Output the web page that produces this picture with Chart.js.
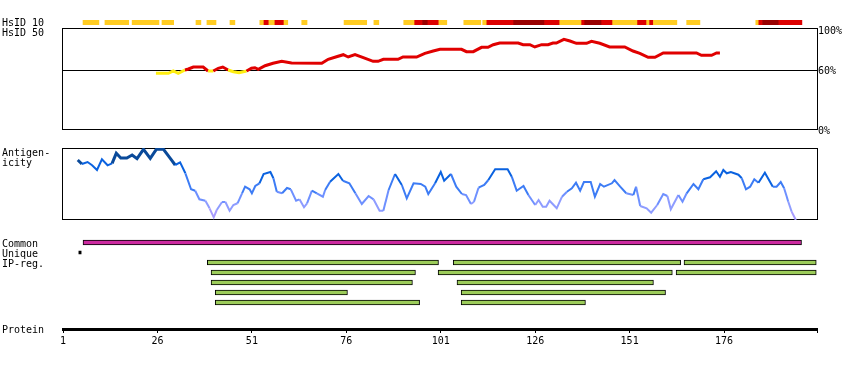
<!DOCTYPE html>
<html><head><meta charset="utf-8">
<script src="https://cdn.jsdelivr.net/npm/chart.js@4.4.0/dist/chart.umd.min.js"></script>
<style>
html,body{margin:0;padding:0;background:#fff;}
#wrap{position:relative;width:850px;height:370px;overflow:hidden;background:#fff;}
#wrap canvas{position:absolute;left:0;top:0;}
.lbl{position:absolute;left:2px;font-family:'DejaVu Sans Mono',monospace;font-size:10px;line-height:10px;color:#000;white-space:pre;}
</style></head><body>
<div id="wrap">
<canvas id="cStrip" width="850" height="370"></canvas>
<canvas id="cId" width="850" height="370"></canvas>
<canvas id="cAg" width="850" height="370"></canvas>
<canvas id="cFeat" width="850" height="370"></canvas>
<canvas id="cAxis" width="850" height="370"></canvas>
<div class="lbl" style="top:18px">HsID 10</div>
<div class="lbl" style="top:28px">HsID 50</div>
<div class="lbl" style="top:148px">Antigen-</div>
<div class="lbl" style="top:158px">icity</div>
<div class="lbl" style="top:239px">Common</div>
<div class="lbl" style="top:249px">Unique</div>
<div class="lbl" style="top:259px">IP-reg.</div>
<div class="lbl" style="top:325px">Protein</div>
</div>
<script>
// ---------- DATA ----------
const residueMin = 1;
const residueMax = 200.6;

// HsID 10 strip: block start/end (residue) and level (0 = gold, 1 = red, 2 = dark red)
const strip10Start = [6.3,12.1,19.3,27.2,36.2,39.1,45.2,53.1,54.2,55.5,57.1,59.5,64.2,75.4,83.3,91.2,94.1,96.2,97.6,100.5,107.1,112.1,113.2,120.3,128.5,132.5,138.3,139.1,143.6,146.5,153.1,155.5,156.3,157.3,166.1,184.4,185.2,186.2,190.5];
const strip10End   = [10.5,18.4,26.4,30.3,37.5,41.5,46.5,54.2,55.5,57.1,59.5,60.5,65.6,81.4,84.6,94.1,96.2,97.6,100.5,102.6,111.6,113.2,120.3,128.5,132.5,138.3,139.1,143.6,146.5,153.1,155.5,156.3,157.3,163.5,169.6,185.2,186.2,190.5,196.6];
const strip10Level = [0,0,0,0,0,0,0,0,1,0,1,0,0,0,0,0,1,2,1,0,0,0,1,2,1,0,1,2,1,0,1,0,1,0,0,0,1,2,1];

// HsID 50 identity (%)
const idRes = [25.6,28.9,30.2,31.5,33.3,34.2,35.5,38.1,39.4,40.8,42.1,43.3,44.7,46.1,47.6,49.6,50.9,51.8,52.7,54.5,56.6,58.9,61.5,69.5,71.2,73.4,75.2,76.5,78.3,80.5,83.1,84.4,85.8,89.7,91,94.6,96.8,99,100.8,106.5,107.8,109.6,111.8,113.5,114.9,116.6,121.5,122.8,124.6,125.9,127.7,129.4,130.7,131.6,133.6,135.2,136.9,139.6,140.9,143.1,145.7,149.7,151.9,153.7,155.9,157.7,159.9,168.7,170,172.7,174,174.9];
const idVal = [56.7,56.7,59,56.7,60,61,63,63,59,59,61.7,63,60,58.3,57.3,59,61.7,62.3,60.7,64.3,66.7,68.7,67,66.7,70.7,73.3,75.3,73,75.3,72.3,68.7,68.7,70.7,70.7,73,73,76.7,79,80.7,80.7,78.3,78.3,82.7,82.7,85.3,87,87,85.3,85.3,83,85.3,85.3,87,87,90.7,89,86.7,86.7,88.7,86.7,83,83,79,76.7,72.7,72.7,77,77,74.7,74.7,77,77];
const idTicks = [0, 60, 100];
const idThreshold = 60;

// Antigenicity (arbitrary units, 0 = bottom of panel)
const agRes = [4.9,6.0,7.5,8.7,10.0,11.3,12.8,14.0,15.1,16.3,17.9,19.3,20.6,22.3,24.1,25.7,27.6,29.4,30.7,32.0,33.4,34.9,36.0,37.1,38.7,39.8,40.9,41.7,43.1,44.0,45.1,46.1,47.2,48.4,49.2,50.4,51.0,51.9,53.0,54.1,55.9,56.7,57.6,59.0,60.3,61.3,62.7,63.6,64.8,65.6,66.9,68.2,69.8,70.4,71.7,73.9,75.1,76.8,78.4,80.1,81.9,83.2,84.8,85.8,87.2,88.9,90.7,92.0,93.8,95.7,96.9,97.7,99.5,101.0,101.9,103.7,105.1,106.6,107.7,109.0,109.8,111.0,112.5,113.6,115.4,118.7,119.8,121.1,122.9,124.2,126.0,126.9,128.0,128.9,129.8,131.7,133.1,134.4,135.7,136.8,137.9,138.9,140.7,141.8,143.2,144.2,146.3,147.0,148.5,150.1,152.0,152.7,153.8,155.5,156.7,158.3,159.9,161.0,161.9,163.9,165.0,166.1,167.9,169.2,170.5,172.3,173.9,174.9,175.8,176.7,177.8,179.8,180.7,181.8,182.9,184.0,185.1,186.8,188.9,189.9,191.0,191.9,193.0,193.9,195.0];
const agVal = [60,56,58,54.7,50,60.7,54.7,56.7,66.7,62,62,65,61.3,70.7,61.7,70.7,70.7,61.7,55,57.7,46.7,30.7,29.3,20.7,19.3,11.7,2.7,10,18,18,9.3,15,16.7,26.7,33.3,30.7,26.7,34,36.7,46,48,41.7,28.3,26.7,32,30.7,19.3,20.7,12.7,16.7,29.3,26.7,23.3,30,38.3,46,39.3,36.7,26.7,16,24,20.7,9.3,9.3,30,46,35,21.7,36.7,36,33.3,26,36.7,48,39.3,46,33.3,26,25,16,18.3,32.3,35,40,50.7,50.7,43.3,29.3,34,25,15,20,13.3,13.3,19.3,11.7,23.3,28.3,31.7,37.3,29.3,38,38,23.3,36,33.3,36.7,40,33.3,26.7,25,33.3,14,11.7,7.3,15,26,24,10.7,25,18.3,26.7,36,30.7,40.7,42.7,48.7,43.3,50,46.7,48,45.3,41.7,30.7,33.3,40.7,37.3,47.3,33.3,33.3,38,31.7,18.3,8.3,0];

// Feature rows: 0 Common, 1 Unique, 2..6 IP-reg.
const commonStart = [6.3];
const commonEnd = [196.5];
const uniqueStart = [5.2];
const uniqueEnd = [5.8];
const ipRow   = [2,2,2,3,3,3,4,4,5,5,6,6];
const ipStart = [39.2,104.3,165.4,40.2,100.3,163.3,40.2,105.3,41.3,106.4,41.3,106.4];
const ipEnd   = [100.4,164.5,200.4,94.3,162.3,200.4,93.5,157.3,76.3,160.5,95.4,139.3];

// Protein axis ticks
const protTicks = [1,26,51,76,101,126,151,176];

// ---------- STYLE ----------
const FONT = {family: "'DejaVu Sans Mono', monospace", size: 10};
const stripColors = ['#FFCC22', '#DD0000', '#990000'];
const xScale = () => ({type: 'linear', min: residueMin, max: residueMax, display: false, offset: false});
const baseOpts = {responsive: false, animation: false, events: [], devicePixelRatio: 1,
  plugins: {legend: {display: false}, tooltip: {enabled: false}}};

const boxPlugin = {
  id: 'box',
  beforeDatasetsDraw(chart) {
    const a = chart.chartArea, ctx = chart.ctx;
    ctx.save();
    ctx.strokeStyle = '#000'; ctx.lineWidth = 1;
    ctx.strokeRect(a.left - 0.5, a.top + 0.5, a.right - a.left + 1, a.bottom - a.top - 1);
    ctx.restore();
  }
};

// ---------- HsID 10 strip ----------
new Chart(document.getElementById('cStrip'), {
  type: 'bar',
  data: {labels: ['HsID 10'], datasets: [{
    data: strip10Start.map((s, i) => ({x: [s, strip10End[i]], y: 'HsID 10'})),
    backgroundColor: strip10Level.map(l => stripColors[l]),
    borderWidth: 0, barPercentage: 1, categoryPercentage: 1
  }]},
  options: Object.assign({}, baseOpts, {
    indexAxis: 'y',
    layout: {padding: {left: 63, right: 33, top: 20, bottom: 345}},
    scales: {x: xScale(), y: {type: 'category', display: false}}
  })
});

// ---------- HsID 50 panel ----------
new Chart(document.getElementById('cId'), {
  type: 'line',
  data: {datasets: [{
    data: idRes.map((r, i) => ({x: r, y: idVal[i]})),
    borderWidth: 3, pointRadius: 0, tension: 0, fill: false,
    borderColor: '#E00000',
    segment: {borderColor: c => ((c.p0.parsed.y + c.p1.parsed.y) / 2 >= idThreshold ? '#E00000' : '#FFEE11')}
  }]},
  options: Object.assign({}, baseOpts, {
    layout: {padding: {left: 63, right: 0, top: 28, bottom: 240}},
    scales: {
      x: xScale(),
      y: {type: 'linear', position: 'right', min: 0, max: 102,
        afterFit: s => { s.width = 33; },
        afterBuildTicks: s => { s.ticks = idTicks.map(v => ({value: v})); },
        border: {display: false},
        grid: {drawTicks: false, color: c => (c.tick && c.tick.value === idThreshold ? '#000' : 'rgba(0,0,0,0)'), lineWidth: 1},
        ticks: {font: FONT, color: '#000', padding: 1, labelOffset: 1, callback: v => v + '%'}
      }
    }
  }),
  plugins: [boxPlugin]
});

// ---------- Antigenicity panel ----------
function agColor(v) {
  if (v >= 58) return '#0A4A9A';
  if (v >= 40) return '#0A62E0';
  if (v >= 28) return '#3D7CF5';
  if (v >= 18) return '#6E90FF';
  if (v >= 8) return '#8E9CFF';
  return '#A89CFF';
}
new Chart(document.getElementById('cAg'), {
  type: 'line',
  data: {datasets: [{
    data: agRes.map((r, i) => ({x: r, y: agVal[i]})),
    borderWidth: 2, pointRadius: 0, tension: 0, fill: false, borderColor: '#0A62E0',
    segment: {
      borderColor: c => agColor((c.p0.parsed.y + c.p1.parsed.y) / 2),
      borderWidth: c => ((c.p0.parsed.y + c.p1.parsed.y) / 2 >= 58 ? 3 : 2)
    }
  }]},
  options: Object.assign({}, baseOpts, {
    layout: {padding: {left: 63, right: 33, top: 148, bottom: 150}},
    scales: {x: xScale(), y: {type: 'linear', min: 0, max: 72, display: false}}
  }),
  plugins: [boxPlugin]
});

// ---------- Features (Common / Unique / IP-reg.) ----------
new Chart(document.getElementById('cFeat'), {
  type: 'bar',
  data: {datasets: [
    {data: commonStart.map((s, i) => ({x: [s, commonEnd[i]], y: 0})),
     backgroundColor: '#CC2AA0', borderColor: '#000', borderWidth: 1, borderSkipped: false, barThickness: 5, grouped: false},
    {data: uniqueStart.map((s, i) => ({x: [s, uniqueEnd[i]], y: 1})),
     backgroundColor: '#000', borderWidth: 0, barThickness: 3, grouped: false},
    {data: ipStart.map((s, i) => ({x: [s, ipEnd[i]], y: ipRow[i]})),
     backgroundColor: '#9CCC5A', borderColor: '#000', borderWidth: 1, borderSkipped: false, barThickness: 5, grouped: false}
  ]},
  options: Object.assign({}, baseOpts, {
    indexAxis: 'y',
    layout: {padding: {left: 63, right: 33, top: 237.5, bottom: 62.5}},
    scales: {x: xScale(), y: {type: 'linear', min: -0.5, max: 6.5, reverse: true, display: false, offset: false}}
  })
});

// ---------- Protein axis ----------
new Chart(document.getElementById('cAxis'), {
  type: 'line',
  data: {datasets: [{data: []}]},
  options: Object.assign({}, baseOpts, {
    layout: {padding: {left: 63, right: 33, top: 318, bottom: 21}},
    scales: {
      x: {type: 'linear', position: 'bottom', min: residueMin, max: residueMax,
        afterFit: s => { s.height = 20; },
        afterBuildTicks: s => { s.ticks = protTicks.concat([residueMax]).map(v => ({value: v})); },
        border: {display: true, width: 3, color: '#000'},
        grid: {drawOnChartArea: false, drawTicks: true, tickLength: 4, color: '#000', lineWidth: 1},
        ticks: {font: FONT, color: '#000', padding: 2, maxRotation: 0, autoSkip: false,
          callback: (v, i) => (i < protTicks.length ? String(protTicks[i]) : '')}
      },
      y: {display: false, min: 0, max: 1}
    }
  })
});
</script>
</body></html>
